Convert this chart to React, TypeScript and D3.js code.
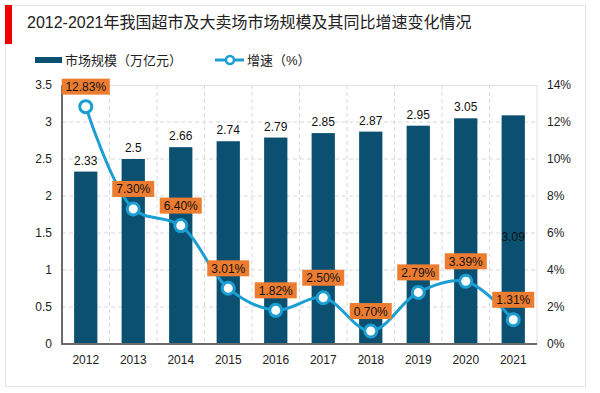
import React, { useEffect, useRef } from "react";
import * as d3 from "d3";

// data
const years = ["2012", "2013", "2014", "2015", "2016", "2017", "2018", "2019", "2020", "2021"];
const marketSize = [2.33, 2.5, 2.66, 2.74, 2.79, 2.85, 2.87, 2.95, 3.05, 3.09];
const growthRate = [12.83, 7.3, 6.4, 3.01, 1.82, 2.5, 0.7, 2.79, 3.39, 1.31];
const leftTicks = [0, 0.5, 1, 1.5, 2, 2.5, 3, 3.5];
const rightTicks = [0, 2, 4, 6, 8, 10, 12, 14];

const FONT = "'Liberation Sans', Arial, 'Noto Sans CJK SC', sans-serif";
const BAR = "#0b5070";
const LINE = "#1b9fd3";
const LABEL_BG = "#ec7c30";

const App = () => {
    const container = useRef<SVGSVGElement>(null);

    useEffect(() => {
        const svg = d3.select(container.current);
        svg.selectAll("*").remove();

        const width = 600, height = 393;
        const margin = { top: 85, right: 63, bottom: 49, left: 62 };
        const innerW = width - margin.left - margin.right;
        const innerH = height - margin.top - margin.bottom;

        // outer frame + red marker
        svg.append("rect")
            .attr("x", 5.5).attr("y", 5.5)
            .attr("width", 580).attr("height", 381)
            .attr("fill", "#fff").attr("stroke", "#e3e3e3");
        svg.append("rect")
            .attr("x", 5).attr("y", 5)
            .attr("width", 7).attr("height", 39)
            .attr("fill", "#f00000");

        svg.append("text")
            .attr("x", 27).attr("y", 28)
            .attr("font-family", FONT)
            .attr("font-size", 16)
            .attr("fill", "#222")
            .text("2012-2021年我国超市及大卖场市场规模及其同比增速变化情况");

        // legend
        const lg = svg.append("g").attr("font-family", FONT).attr("font-size", 13).attr("fill", "#222");
        lg.append("rect").attr("x", 35).attr("y", 57).attr("width", 27).attr("height", 6).attr("fill", BAR);
        lg.append("text").attr("x", 65).attr("y", 65).text("市场规模（万亿元）");
        lg.append("line").attr("x1", 215).attr("x2", 244).attr("y1", 60).attr("y2", 60)
            .attr("stroke", LINE).attr("stroke-width", 3);
        lg.append("circle").attr("cx", 230).attr("cy", 60).attr("r", 4)
            .attr("fill", "#fff").attr("stroke", LINE).attr("stroke-width", 2.5);
        lg.append("text").attr("x", 247).attr("y", 65).text("增速（%）");

        const g = svg.append("g").attr("transform", `translate(${margin.left},${margin.top})`);

        const x = d3.scaleBand().domain(years).range([0, innerW]);
        const yL = d3.scaleLinear().domain([0, 3.5]).range([innerH, 0]);
        const yR = d3.scaleLinear().domain([0, 14]).range([innerH, 0]);

        // grid
        g.selectAll(".hgrid")
            .data(leftTicks.slice(1, -1))
            .enter()
            .append("line")
            .attr("x1", 0).attr("x2", innerW)
            .attr("y1", (d) => yL(d)).attr("y2", (d) => yL(d))
            .attr("stroke", "#d9d9d9").attr("stroke-dasharray", "4,3");
        g.selectAll(".vgrid")
            .data(years.slice(1))
            .enter()
            .append("line")
            .attr("x1", (d) => x(d)!).attr("x2", (d) => x(d)!)
            .attr("y1", 0).attr("y2", innerH)
            .attr("stroke", "#d9d9d9").attr("stroke-dasharray", "4,3");
        g.append("line").attr("x1", 0).attr("x2", innerW).attr("y1", 0.5).attr("y2", 0.5).attr("stroke", "#e0e0e0");
        g.append("line").attr("x1", innerW).attr("x2", innerW).attr("y1", 0).attr("y2", innerH).attr("stroke", "#e0e0e0");

        // bars
        const bw = x.bandwidth() * 0.49;
        g.selectAll(".bar")
            .data(marketSize)
            .enter()
            .append("rect")
            .attr("x", (d, i) => x(years[i])! + (x.bandwidth() - bw) / 2)
            .attr("y", (d) => yL(d))
            .attr("width", bw)
            .attr("height", (d) => innerH - yL(d))
            .attr("fill", BAR);

        // bar labels (last one sits inside the bar in the original)
        g.selectAll(".barlbl")
            .data(marketSize)
            .enter()
            .append("text")
            .attr("x", (d, i) => x(years[i])! + x.bandwidth() / 2)
            .attr("y", (d, i) => i === marketSize.length - 1 ? yL(1.45) + 4 : yL(d) - 7)
            .attr("text-anchor", "middle")
            .attr("font-family", FONT)
            .attr("font-size", 12)
            .attr("fill", "#111")
            .text((d) => String(d));

        // axes
        g.append("line").attr("x1", 0).attr("x2", 0).attr("y1", 0).attr("y2", innerH)
            .attr("stroke", "#6b6b6b").attr("stroke-width", 2);
        g.append("line").attr("x1", -1).attr("x2", innerW).attr("y1", innerH).attr("y2", innerH)
            .attr("stroke", "#6b6b6b").attr("stroke-width", 2);

        const ax = g.append("g").attr("font-family", FONT).attr("font-size", 12).attr("fill", "#222");
        ax.selectAll(".lt")
            .data(leftTicks)
            .enter()
            .append("text")
            .attr("x", -10).attr("y", (d) => yL(d) + 4)
            .attr("text-anchor", "end")
            .text((d) => String(d));
        ax.selectAll(".rt")
            .data(rightTicks)
            .enter()
            .append("text")
            .attr("x", innerW + 10).attr("y", (d) => yR(d) + 4)
            .text((d) => d + "%");
        ax.selectAll(".xt")
            .data(years)
            .enter()
            .append("text")
            .attr("x", (d) => x(d)! + x.bandwidth() / 2)
            .attr("y", innerH + 20)
            .attr("text-anchor", "middle")
            .text((d) => d);

        // growth line
        const line = d3.line<number>()
            .x((d, i) => x(years[i])! + x.bandwidth() / 2)
            .y((d) => yR(d))
            .curve(d3.curveCatmullRom.alpha(0.5));
        g.append("path")
            .datum(growthRate)
            .attr("d", line)
            .attr("fill", "none")
            .attr("stroke", LINE)
            .attr("stroke-width", 3);
        g.selectAll(".pt")
            .data(growthRate)
            .enter()
            .append("circle")
            .attr("cx", (d, i) => x(years[i])! + x.bandwidth() / 2)
            .attr("cy", (d) => yR(d))
            .attr("r", 6)
            .attr("fill", "#fff")
            .attr("stroke", LINE)
            .attr("stroke-width", 3);

        // rate labels
        const lbl = g.selectAll(".rl")
            .data(growthRate)
            .enter()
            .append("g")
            .attr("transform", (d, i) => `translate(${x(years[i])! + x.bandwidth() / 2},${yR(d) - 20})`);
        lbl.append("rect")
            .attr("x", (d) => d >= 10 ? -24 : -21)
            .attr("y", -8)
            .attr("width", (d) => d >= 10 ? 48 : 42)
            .attr("height", 16)
            .attr("fill", LABEL_BG);
        lbl.append("text")
            .attr("y", 4.5)
            .attr("text-anchor", "middle")
            .attr("font-family", FONT)
            .attr("font-size", 12)
            .attr("fill", "#111")
            .text((d) => d.toFixed(2) + "%");
    }, []);

    return (
        <svg ref={container} width={600} height={393}
            style={{ position: "absolute", left: 0, top: 0, background: "#fff" }}></svg>
    );
};

export default App;
